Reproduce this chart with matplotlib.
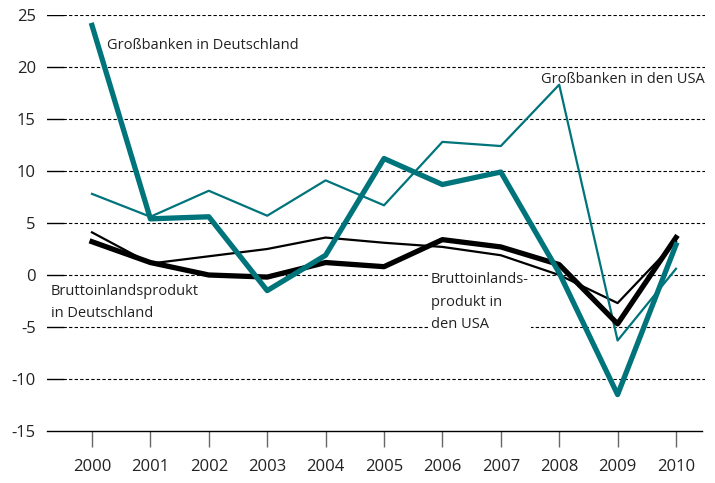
import matplotlib
matplotlib.use("Agg")
import matplotlib.pyplot as plt

# Daten (Veränderung gegenüber Vorjahr in %)
jahre = [2000, 2001, 2002, 2003, 2004, 2005, 2006, 2007, 2008, 2009, 2010]
banken_de = [24.0, 5.4, 5.6, -1.5, 1.9, 11.2, 8.7, 9.9, 0.2, -11.5, 2.9]
banken_usa = [7.8, 5.6, 8.1, 5.7, 9.1, 6.7, 12.8, 12.4, 18.3, -6.3, 0.6]
bip_de = [3.2, 1.2, 0.0, -0.2, 1.2, 0.8, 3.4, 2.7, 1.0, -4.7, 3.6]
bip_usa = [4.1, 1.1, 1.8, 2.5, 3.6, 3.1, 2.7, 1.9, 0.0, -2.7, 3.2]
y_ticks = [-15, -10, -5, 0, 5, 10, 15, 20, 25]

teal = "#00747b"
plt.rcParams["font.family"] = ["Open Sans", "DejaVu Sans"]

fig = plt.figure(figsize=(7.15, 4.83), dpi=100)
ax = fig.add_axes([47 / 715, 52 / 483, 658 / 715, 416 / 483])
ax.set_xlim(2000 - 45 / 58.4, 2010 + 29 / 58.4)
ax.set_ylim(-15, 25)

# Gitterlinien: kurzer schwarzer Strich links, dann gestrichelt
gx = 16 / 658
for y in y_ticks[1:]:
    ax.axhline(y, xmin=0, xmax=gx, color="black", lw=1.0, zorder=1)
    ax.axhline(y, xmin=gx, xmax=1, color="black", lw=0.8, ls=(0, (3, 2)), zorder=1)

ax.plot(jahre, bip_usa, color="black", lw=1.6, zorder=3)
ax.plot(jahre, banken_usa, color=teal, lw=1.6, zorder=3)
ax.plot(jahre, bip_de, color="black", lw=3.8, zorder=4)
ax.plot(jahre, banken_de, color=teal, lw=3.8, zorder=5)

for s in ["top", "right", "left"]:
    ax.spines[s].set_visible(False)
ax.spines["bottom"].set_linewidth(1.0)
ax.spines["bottom"].set_bounds(2000 - 45 / 58.4, 2010 + 26 / 58.4)

ax.set_yticks(y_ticks)
ax.set_yticklabels([str(v) for v in y_ticks])
ax.tick_params(axis="y", length=0, pad=8, labelsize=12, colors="#222222")
ax.set_xticks(jahre)
ax.tick_params(axis="x", length=11.5, width=1.0, color="#666666", pad=9,
               labelsize=12, labelcolor="#222222")

# Beschriftungen
ax.text(2000.26, 22.1, "Großbanken in Deutschland", fontsize=10.5,
        color="#222222", ha="left", va="center", zorder=2)
ax.text(2010.49, 18.8, "Großbanken in den USA", fontsize=10.5,
        color="#222222", ha="right", va="center", zorder=2)
ax.text(1999.3, -0.9, "Bruttoinlandsprodukt\nin Deutschland", fontsize=10.5,
        color="#222222", ha="left", va="top", linespacing=1.6, zorder=2,
        bbox=dict(facecolor="white", edgecolor="none", pad=0.5))
ax.text(2005.8, 0.3, "Bruttoinlands-\nprodukt in\nden USA", fontsize=10.5,
        color="#222222", ha="left", va="top", linespacing=1.7, zorder=2,
        bbox=dict(facecolor="white", edgecolor="none", pad=1.5))

fig.savefig("out.png", dpi=100)
